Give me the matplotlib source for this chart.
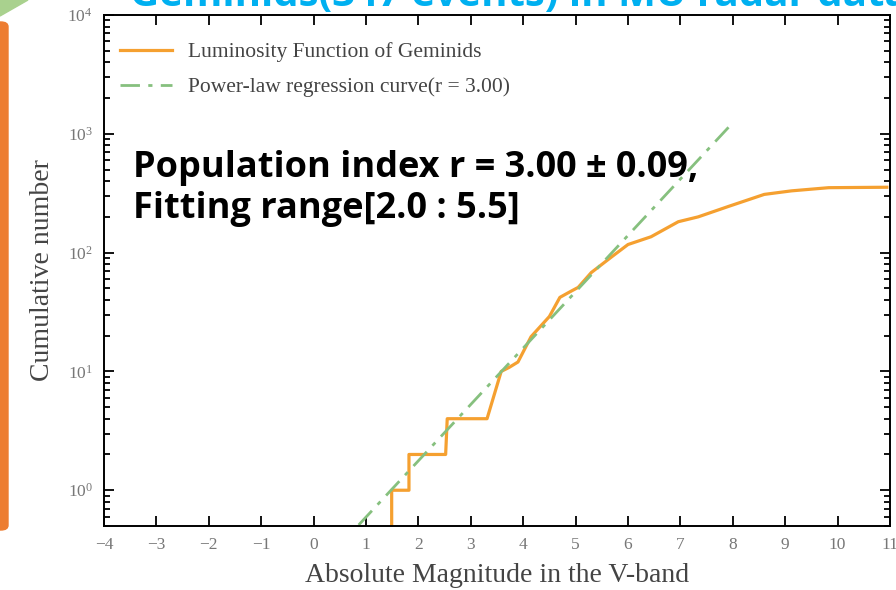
import matplotlib
matplotlib.use('Agg')
import matplotlib.pyplot as plt
from matplotlib.patches import FancyBboxPatch, Polygon
from matplotlib.ticker import LogLocator, NullFormatter, MultipleLocator

# cumulative luminosity function
mag = [1.49, 1.49, 1.82, 1.82, 2.52, 2.55, 3.31, 3.58, 3.73, 3.90, 4.15, 4.50,
       4.70, 4.90, 5.05, 5.30, 5.70, 6.00, 6.44, 6.96, 7.34, 7.92, 8.60, 9.12,
       9.83, 10.94]
count = [0.4, 1, 1, 2, 2, 4, 4, 10, 10.8, 12, 19.6, 29, 42, 47, 51, 68, 93, 117,
         136, 182, 200, 245, 309, 331, 352, 355]

# power-law regression line end points
fit_mag = [0.86, 7.97]
fit_n = [0.51, 1200]

W, H = 896, 590
fig = plt.figure(figsize=(W / 100, H / 100), dpi=100)

plt.rcParams['font.family'] = ['Liberation Serif']
plt.rcParams['mathtext.fontset'] = 'stix'

def fx(px):
    return px / W

def fy(py):
    return 1 - py / H

ax = fig.add_axes([fx(104), fy(526), fx(890 - 104), (526 - 15) / H])
ax.plot(mag, count, color='#F5A030', lw=2.3, label='Luminosity Function of Geminids')
ax.plot(fit_mag, fit_n, color='#86C07E', lw=2.0, ls=(0, (7, 3, 1.5, 3)),
        label='Power-law regression curve(r = 3.00)')
ax.set_yscale('log')
ax.set_xlim(-4, 11)
ax.set_ylim(0.5, 1e4)
ax.xaxis.set_major_locator(MultipleLocator(1))
ax.yaxis.set_minor_locator(LogLocator(base=10, subs=range(2, 10), numticks=20))
ax.yaxis.set_minor_formatter(NullFormatter())
ax.tick_params(which='both', direction='in', top=True, right=True,
               labelsize=12.5, labelcolor='#777777', width=1.3)
ax.tick_params(which='major', length=7, pad=8)
ax.tick_params(which='minor', length=4)
for s in ax.spines.values():
    s.set_linewidth(1.4)
ax.set_xlabel('Absolute Magnitude in the V-band', fontsize=20, color='#444444', labelpad=7)
ax.set_ylabel('Cumulative number', fontsize=20, color='#444444', labelpad=9)
ax.legend(loc='upper left', bbox_to_anchor=(-0.004, 0.985), frameon=False,
          fontsize=15.5, handlelength=2.4, labelcolor='#444444',
          borderaxespad=0.5, labelspacing=0.7, handletextpad=0.75)

# slide decorations
sans = ['Open Sans', 'DejaVu Sans']
fig.text(fx(130), fy(6), 'Geminids(347 events) in MU radar data', color='#00B0F0',
         fontsize=29, fontweight='bold', family=sans, va='baseline', ha='left')
fig.text(fx(133), fy(177), 'Population index r = 3.00 \u00b1 0.09,', fontsize=26,
         fontweight='bold', family=sans, va='baseline')
fig.text(fx(133), fy(218), 'Fitting range[2.0 : 5.5]', fontsize=26,
         fontweight='bold', family=sans, va='baseline')

fig.patches.append(FancyBboxPatch((fx(-10), fy(530)), fx(18), fy(22) - fy(530),
                                  boxstyle='round,pad=0,rounding_size=0.008',
                                  transform=fig.transFigure, color='#ED7D31',
                                  figure=fig))
fig.patches.append(Polygon([(0, 1), (fx(28), 1), (0, fy(16))], closed=True,
                           transform=fig.transFigure, color='#A9D18E', figure=fig))

fig.savefig('out.png', dpi=100)
